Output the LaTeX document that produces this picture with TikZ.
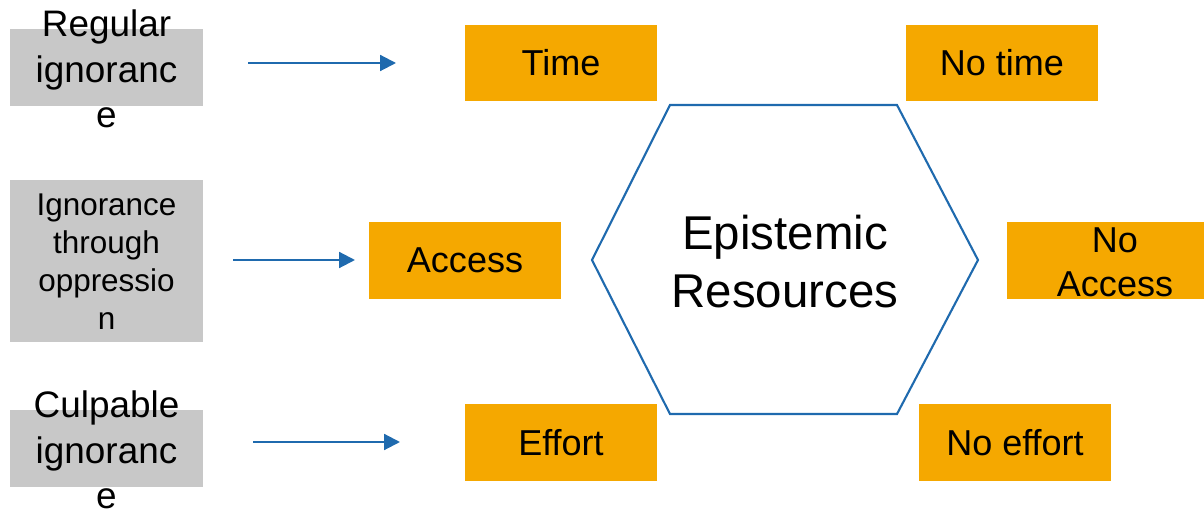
\documentclass[tikz,border=0pt]{standalone}
\usepackage{fontspec}
\setmainfont{Liberation Sans}
\usetikzlibrary{arrows.meta}
\definecolor{gbox}{HTML}{C8C8C8}
\definecolor{obox}{HTML}{F5A800}
\definecolor{bline}{HTML}{1F6AAE}
\begin{document}
\begin{tikzpicture}[x=0.02cm,y=-0.02cm,
  graybox/.style={fill=gbox,draw=none,inner sep=0pt,minimum width=3.86cm,minimum height=1.54cm},
  orangebox/.style={fill=obox,draw=none,inner sep=0pt,minimum width=3.84cm,minimum height=1.54cm,
     font=\fontsize{20.5pt}{25pt}\selectfont},
  bigtxt/.style={align=center,inner sep=0pt,font=\fontsize{21pt}{26pt}\selectfont},
  smalltxt/.style={align=center,inner sep=0pt,font=\fontsize{17.9pt}{21.6pt}\selectfont},
  arr/.style={draw=bline,line width=1.2pt,-{Triangle[length=9pt,width=9pt]}}
]
\useasboundingbox (0,0) rectangle (1204,509);
% gray boxes
\node[graybox] (g1) at (106.5,67.5) {};
\node[bigtxt] (t1) at (106.5,69) {Regular\\ignoranc\\e};
\node[graybox,minimum height=3.24cm] (g2) at (106.5,261) {};
\node[smalltxt] (t2) at (106.5,262) {Ignorance\\through\\oppressio\\n};
\node[graybox] (g3) at (106.5,448.5) {};
\node[bigtxt] (t3) at (106.5,450) {Culpable\\ignoranc\\e};
% arrows
\coordinate (a1s) at (248,63); \coordinate (a1e) at (396,63);
\coordinate (a2s) at (233,260); \coordinate (a2e) at (355,260);
\coordinate (a3s) at (253,442); \coordinate (a3e) at (400,442);
\draw[arr] (a1s) -- (a1e);
\draw[arr] (a2s) -- (a2e);
\draw[arr] (a3s) -- (a3e);
% orange boxes
\node[orangebox] (time) at (561,63) {Time};
\node[orangebox] (access) at (465,260.5) {Access};
\node[orangebox] (effort) at (561,442.5) {Effort};
\node[orangebox] (notime) at (1002,63) {No time};
\node[orangebox,minimum width=3.94cm] (noaccessbox) at (1105.5,260.5) {};
\node[align=center,inner sep=0pt,font=\fontsize{20.5pt}{25pt}\selectfont] (noaccess) at (1115,262) {No\\Access};
\node[orangebox] (noeffort) at (1015,442.5) {No effort};
% hexagon
\coordinate (h1) at (592,260); \coordinate (h2) at (670,105); \coordinate (h3) at (897,105);
\coordinate (h4) at (978,260); \coordinate (h5) at (897,414); \coordinate (h6) at (670,414);
\draw[bline,line width=1.2pt,fill=white,line join=miter] (h1) -- (h2) -- (h3) -- (h4) -- (h5) -- (h6) -- cycle;
\node[align=center,inner sep=0pt,font=\fontsize{27pt}{33pt}\selectfont] (epi) at (785,262) {Epistemic\\Resources};
\end{tikzpicture}
\end{document}
